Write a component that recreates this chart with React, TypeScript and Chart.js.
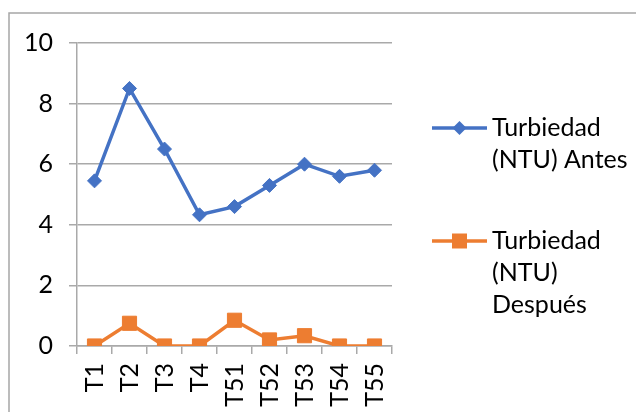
import React, { useEffect, useRef } from 'react';
import { Chart, registerables } from 'chart.js';

Chart.register(...registerables);

const categories = ['T1', 'T2', 'T3', 'T4', 'T51', 'T52', 'T53', 'T54', 'T55'];
const antes = [5.45, 8.5, 6.5, 4.33, 4.6, 5.3, 6.0, 5.6, 5.8];
const despues = [0, 0.75, 0, 0, 0.85, 0.2, 0.34, 0, 0];
const seriesNames = ['Turbiedad (NTU) Antes', 'Turbiedad (NTU) Después'];
const seriesColors = ['#4472C4', '#ED7D31'];
const yTicks = [0, 2, 4, 6, 8, 10];

const FONT_FAMILY = 'Lato, "Open Sans", sans-serif';
const FONT_SIZE = 25;
const GRID = '#a9a9a9';

const W = 636;
const H = 412;

function wrapText(ctx: CanvasRenderingContext2D, text: string, maxWidth: number): string[] {
  const words = text.split(' ');
  const lines: string[] = [];
  let cur = '';
  for (const w of words) {
    const test = cur ? cur + ' ' + w : w;
    if (cur && ctx.measureText(test).width > maxWidth) {
      lines.push(cur);
      cur = w;
    } else {
      cur = test;
    }
  }
  if (cur) lines.push(cur);
  return lines;
}

const framePlugin = {
  id: 'frame',
  beforeDraw(chart: any) {
    const ctx = chart.ctx;
    ctx.save();
    ctx.strokeStyle = '#a6a6a6';
    ctx.lineWidth = 1.5;
    ctx.beginPath();
    ctx.moveTo(9, chart.height);
    ctx.lineTo(9, 13);
    ctx.lineTo(chart.width, 13);
    ctx.stroke();
    ctx.restore();
  },
};

const legendPlugin = {
  id: 'customLegend',
  afterDraw(chart: any) {
    const ctx: CanvasRenderingContext2D = chart.ctx;
    const area = chart.chartArea;
    const x0 = area.right + 40;
    const x1 = x0 + 55;
    const tx = x1 + 5;
    const lineH = 32;
    const itemY = [area.top + 85, area.top + 198];
    ctx.save();
    ctx.font = `${FONT_SIZE}px ${FONT_FAMILY}`;
    chart.data.datasets.forEach((ds: any, i: number) => {
      const y = itemY[i];
      const color = ds.borderColor;
      ctx.strokeStyle = color;
      ctx.lineWidth = 3.5;
      ctx.beginPath();
      ctx.moveTo(x0, y);
      ctx.lineTo(x1, y);
      ctx.stroke();
      ctx.fillStyle = color;
      const cx = (x0 + x1) / 2;
      ctx.beginPath();
      if (ds.pointStyle === 'rectRot') {
        const r = 7;
        ctx.moveTo(cx - r, y);
        ctx.lineTo(cx, y - r);
        ctx.lineTo(cx + r, y);
        ctx.lineTo(cx, y + r);
        ctx.closePath();
      } else {
        const s = 7.5;
        ctx.rect(cx - s, y - s, 2 * s, 2 * s);
      }
      ctx.fill();
      ctx.fillStyle = '#000';
      ctx.textBaseline = 'alphabetic';
      ctx.textAlign = 'left';
      const lines = wrapText(ctx, ds.label, chart.width - tx - 4);
      lines.forEach((ln, k) => {
        ctx.fillText(ln, tx, y + 8 + k * lineH);
      });
    });
    ctx.restore();
  },
};

export default function App() {
  const ref = useRef<HTMLCanvasElement | null>(null);

  useEffect(() => {
    if (!ref.current) return;
    const font = { family: FONT_FAMILY, size: FONT_SIZE };
    const chart = new Chart(ref.current, {
      type: 'line',
      data: {
        labels: categories,
        datasets: [
          {
            label: seriesNames[0],
            data: antes,
            borderColor: seriesColors[0],
            backgroundColor: seriesColors[0],
            borderWidth: 3.5,
            pointStyle: 'rectRot',
            pointRadius: 7,
            pointBorderWidth: 1,
            tension: 0,
          },
          {
            label: seriesNames[1],
            data: despues,
            borderColor: seriesColors[1],
            backgroundColor: seriesColors[1],
            borderWidth: 3.5,
            pointStyle: 'rect',
            pointRadius: 10,
            pointBorderWidth: 1,
            tension: 0,
          },
        ],
      },
      options: {
        responsive: false,
        animation: false,
        devicePixelRatio: 1,
        layout: { padding: { left: 0, top: 43, right: 244, bottom: 0 } },
        plugins: {
          legend: { display: false },
          tooltip: { enabled: false },
        },
        scales: {
          x: {
            type: 'category',
            offset: true,
            grid: {
              display: true,
              drawOnChartArea: false,
              drawTicks: true,
              tickLength: 8,
              color: GRID,
              lineWidth: 1.5,
              offset: true,
            },
            border: { display: true, color: GRID, width: 1.5 },
            ticks: {
              minRotation: 90,
              maxRotation: 90,
              padding: 9,
              color: '#000',
              font,
              autoSkip: false,
            },
            afterFit: (s: any) => {
              s.height = 66;
            },
          },
          y: {
            min: 0,
            max: 10,
            afterBuildTicks: (s: any) => {
              s.ticks = yTicks.map((v) => ({ value: v }));
            },
            ticks: { padding: 16, color: '#000', font },
            grid: { color: GRID, tickLength: 8, lineWidth: 1.5 },
            border: { display: true, color: GRID, width: 1.5 },
            afterFit: (s: any) => {
              s.width = 77;
            },
          },
        },
      },
      plugins: [framePlugin, legendPlugin],
    } as any);
    return () => chart.destroy();
  }, []);

  return (
    <div style={{ position: 'fixed', left: 0, top: 0, width: W, height: H, background: '#fff' }}>
      <canvas ref={ref} width={W} height={H} style={{ width: W, height: H, display: 'block' }} />
    </div>
  );
}
